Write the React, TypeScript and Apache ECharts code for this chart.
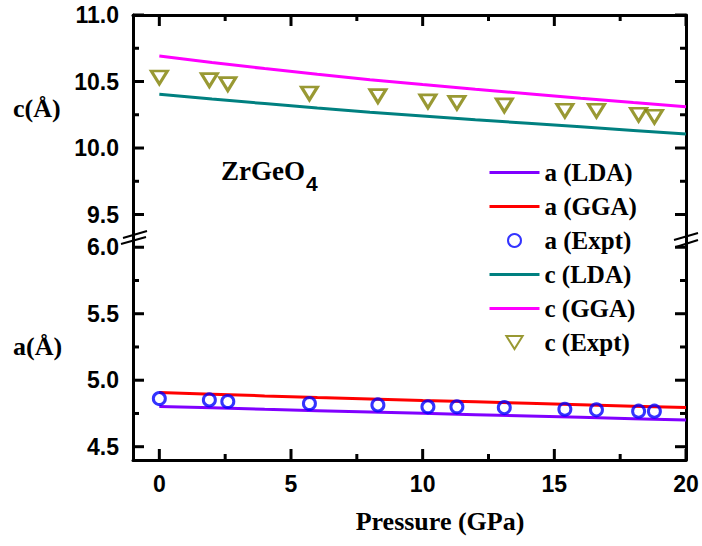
import React, { useEffect, useRef } from "react";
import * as echarts from "echarts";

// ---- data ----
const calcP = [0, 2, 4, 6, 8, 10, 12, 14, 16, 18, 20];
const aLDA = [4.802, 4.792, 4.781, 4.771, 4.761, 4.751, 4.741, 4.731, 4.721, 4.711, 4.701];
const aGGA = [4.908, 4.895, 4.882, 4.87, 4.859, 4.848, 4.838, 4.827, 4.816, 4.805, 4.795];
const cLDA = [10.404, 10.368, 10.334, 10.3, 10.269, 10.241, 10.213, 10.186, 10.159, 10.132, 10.105];
const cGGA = [10.692, 10.643, 10.597, 10.554, 10.514, 10.477, 10.441, 10.408, 10.374, 10.342, 10.311];
const exptP = [0, 1.9, 2.6, 5.7, 8.3, 10.2, 11.3, 13.1, 15.4, 16.6, 18.2, 18.8];
const aExpt = [4.862, 4.852, 4.84, 4.825, 4.814, 4.8, 4.8, 4.794, 4.782, 4.777, 4.767, 4.767];
const cExpt = [10.53, 10.51, 10.48, 10.41, 10.39, 10.35, 10.34, 10.32, 10.28, 10.28, 10.25, 10.235];

const xMajor = [0, 5, 10, 15, 20];
const xMinor = [2.5, 7.5, 12.5, 17.5];
const cMajor = [9.5, 10.0, 10.5, 11.0];
const cMinor = [9.75, 10.25, 10.75];
const aMajor = [4.5, 5.0, 5.5, 6.0];
const aMinor = [4.75, 5.25, 5.75];

const names = ["a (LDA)", "a (GGA)", "a (Expt)", "c (LDA)", "c (GGA)", "c (Expt)"];

const pair = (xs: number[], ys: number[]) => xs.map((x, i) => [x, ys[i]]);

const SANS = "Liberation Sans";
const SERIF = "Liberation Serif";
const X_RANGE = { min: -1, max: 20 };
const C_RANGE = { min: 9.331, max: 11.0 };
const A_RANGE = { min: 4.4, max: 6.077 };

const W = 702;
const GRIDS = [
  { left: 133, right: 16, top: 15, height: 222 },
  { left: 133, right: 16, top: 237, height: 223 },
];

const labelStyle = { fontFamily: SANS, fontWeight: "bold", fontSize: 23, color: "#000" };

function xAxisDef(grid: number, pos: "top" | "bottom") {
  return {
    type: "value",
    gridIndex: grid,
    position: pos,
    ...X_RANGE,
    axisLine: { show: true, onZero: false, lineStyle: { color: "#000", width: 3 } },
    axisTick: { show: false },
    axisLabel: {
      show: pos === "bottom",
      customValues: xMajor,
      margin: 12,
      formatter: (v: number) => String(v),
      ...labelStyle,
    },
    splitLine: { show: false },
  };
}

function yAxisDef(grid: number, pos: "left" | "right", range: { min: number; max: number }, ticks: number[]) {
  return {
    type: "value",
    gridIndex: grid,
    position: pos,
    ...range,
    axisLine: { show: true, onZero: false, lineStyle: { color: "#000", width: 3 } },
    axisTick: { show: false },
    axisLabel: {
      show: pos === "left",
      customValues: ticks,
      margin: 14,
      formatter: (v: number) => v.toFixed(1),
      ...labelStyle,
    },
    splitLine: { show: false },
  };
}

// axis tick marks as small filled rects, on the same linear mapping as the grids' value axes
function buildTicks(): any[] {
  const ranges = [C_RANGE, A_RANGE];
  const toPx = (g: number, x: number, y: number) => {
    const gr = GRIDS[g];
    const w = W - gr.left - gr.right;
    const r = ranges[g];
    return [
      gr.left + ((x - X_RANGE.min) / (X_RANGE.max - X_RANGE.min)) * w,
      gr.top + gr.height - ((y - r.min) / (r.max - r.min)) * gr.height,
    ];
  };
  const MAJ = 11;
  const MIN = 6;
  const T = 3;
  const out: any[] = [];
  const tick = (g: number, x: number, y: number, dir: "L" | "R" | "D" | "U", len: number) => {
    const p = toPx(g, x, y);
    let shape;
    if (dir === "L") shape = { x: p[0], y: p[1] - T / 2, width: len, height: T };
    else if (dir === "R") shape = { x: p[0] - len, y: p[1] - T / 2, width: len, height: T };
    else if (dir === "D") shape = { x: p[0] - T / 2, y: p[1], width: T, height: len };
    else shape = { x: p[0] - T / 2, y: p[1] - len, width: T, height: len };
    out.push({ type: "rect", shape, style: { fill: "#000" }, z: 10 });
  };
  const panels = [
    { g: 0, maj: cMajor, min: cMinor, edgeY: C_RANGE.max, xd: "D" as const },
    { g: 1, maj: aMajor, min: aMinor, edgeY: A_RANGE.min, xd: "U" as const },
  ];
  panels.forEach((pn) => {
    pn.maj.forEach((v) => {
      tick(pn.g, X_RANGE.min, v, "L", MAJ);
      tick(pn.g, X_RANGE.max, v, "R", MAJ);
    });
    pn.min.forEach((v) => {
      tick(pn.g, X_RANGE.min, v, "L", MIN);
      tick(pn.g, X_RANGE.max, v, "R", MIN);
    });
    xMajor.forEach((v) => tick(pn.g, v, pn.edgeY, pn.xd, MAJ));
    xMinor.forEach((v) => tick(pn.g, v, pn.edgeY, pn.xd, MIN));
  });
  return out;
}

export default function App() {
  const ref = useRef<HTMLDivElement>(null);
  useEffect(() => {
    if (!ref.current) return;
    const chart = echarts.init(ref.current, undefined, { renderer: "svg" });
    const lineS = (name: string, xs: number[], ys: number[], color: string, xi: number, yi: number) => ({
      name,
      type: "line",
      xAxisIndex: xi,
      yAxisIndex: yi,
      data: pair(xs, ys),
      symbol: "circle",
      symbolSize: 3,
      showSymbol: false,
      lineStyle: { color, width: 3 },
      itemStyle: { color },
      z: 3,
    });
    const graphic: any[] = [
      { type: "text", left: 13, top: 95, style: { text: "c(Å)", fontFamily: SERIF, fontWeight: "bold", fontSize: 26, fill: "#000" } },
      { type: "text", left: 13, top: 333, style: { text: "a(Å)", fontFamily: SERIF, fontWeight: "bold", fontSize: 26, fill: "#000" } },
      { type: "text", left: 221, top: 157, style: { text: "ZrGeO", fontFamily: SERIF, fontWeight: "bold", fontSize: 27, fill: "#000" } },
      { type: "text", left: 306, top: 173, style: { text: "4", fontFamily: SANS, fontWeight: "bold", fontSize: 21, fill: "#000" } },
      {
        type: "text",
        x: 440,
        y: 521,
        style: { text: "Pressure (GPa)", fontFamily: SERIF, fontWeight: "bold", fontSize: 26, fill: "#000", align: "center", verticalAlign: "middle" },
      },
      { type: "line", shape: { x1: 123, y1: 238, x2: 147, y2: 231 }, style: { stroke: "#000", lineWidth: 2 }, z: 10 },
      { type: "line", shape: { x1: 121, y1: 244, x2: 146, y2: 237 }, style: { stroke: "#000", lineWidth: 2 }, z: 10 },
      { type: "line", shape: { x1: 674, y1: 240, x2: 698, y2: 233 }, style: { stroke: "#000", lineWidth: 2 }, z: 10 },
      { type: "line", shape: { x1: 676, y1: 247, x2: 698, y2: 240 }, style: { stroke: "#000", lineWidth: 2 }, z: 10 },
      ...buildTicks(),
    ];
    const option: any = {
      animation: false,
      backgroundColor: "#fff",
      grid: GRIDS,
      xAxis: [xAxisDef(0, "top"), xAxisDef(1, "bottom")],
      yAxis: [
        yAxisDef(0, "left", C_RANGE, cMajor),
        yAxisDef(0, "right", C_RANGE, cMajor),
        yAxisDef(1, "left", A_RANGE, aMajor),
        yAxisDef(1, "right", A_RANGE, aMajor),
      ],
      legend: {
        orient: "vertical",
        left: 483,
        top: 155,
        itemWidth: 50,
        itemHeight: 13,
        itemGap: 9,
        lineStyle: { width: 3 },
        data: names.map((n, i) => (i === 2 || i === 5 ? { name: n } : { name: n, itemStyle: { opacity: 0 } })),
        textStyle: { fontFamily: SERIF, fontWeight: "bold", fontSize: 25, color: "#000" },
      },
      series: [
        lineS(names[0], calcP, aLDA, "#8000ff", 1, 2),
        lineS(names[1], calcP, aGGA, "#ff0000", 1, 2),
        {
          name: names[2],
          type: "scatter",
          xAxisIndex: 1,
          yAxisIndex: 2,
          data: pair(exptP, aExpt),
          symbol: "circle",
          symbolSize: 12,
          itemStyle: { color: "transparent", borderColor: "#0000ff", borderWidth: 3 },
          z: 4,
        },
        lineS(names[3], calcP, cLDA, "#008080", 0, 0),
        lineS(names[4], calcP, cGGA, "#ff00ff", 0, 0),
        {
          name: names[5],
          type: "scatter",
          xAxisIndex: 0,
          yAxisIndex: 0,
          data: pair(exptP, cExpt),
          symbol: "path://M0,0L20,0L10,16Z",
          symbolSize: [16, 13],
          itemStyle: { color: "transparent", borderColor: "#808000", borderWidth: 3 },
          z: 4,
        },
      ],
      graphic,
    };
    chart.setOption(option);
    return () => chart.dispose();
  }, []);
  return <div ref={ref} style={{ width: 702, height: 546, position: "absolute", left: 0, top: 0 }} />;
}
